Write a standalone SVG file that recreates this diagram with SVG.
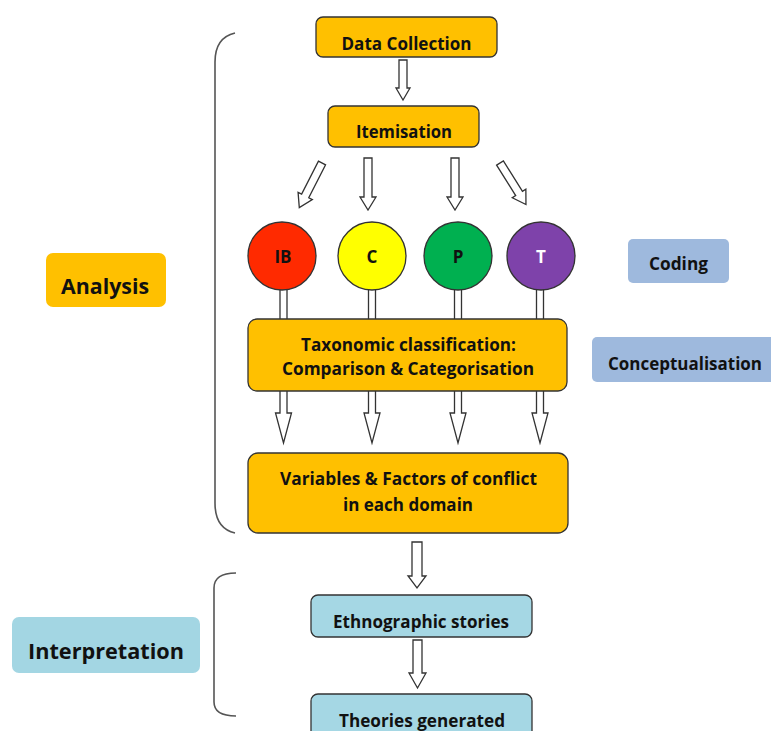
<svg xmlns="http://www.w3.org/2000/svg" width="771" height="731" viewBox="0 0 771 731">
  <style>
    text { font-family: "Open Sans", "Liberation Sans", sans-serif; font-weight: bold; fill: #111; text-anchor: middle; }
    .t17 { font-size: 17px; }
    .t22 { font-size: 22px; }
    .gold { fill: #FFC000; stroke: #333; stroke-width: 1.3; }
    .goldLabel { fill: #FFC000; }
    .teal { fill: #A5D7E4; stroke: #333; stroke-width: 1.3; }
    .tealLabel { fill: #A3D6E3; }
    .blueLabel { fill: #9EB9DD; }
    .circle { stroke: #333; stroke-width: 1.3; }
    .arrow { fill: #fff; stroke: #333; stroke-width: 1.3; stroke-linejoin: miter; }
    .brace { fill: none; stroke: #555; stroke-width: 1.6; }
  </style>

  <!-- side brackets -->
  <g id="brackets">
    <path class="brace" d="M235,33 C222,36 215,45 215,62 V503 C215,520 222,530 235,533"/>
    <path class="brace" d="M236,573 C222,573 214,577 214,588 V702 C214,712 222,716 236,716"/>
  </g>

  <!-- hollow block arrows -->
  <g id="connectors">
    <path class="arrow" d="M399,60 H407 V88 H410 L403,100 L396,88 H399 Z"/>
    <path class="arrow" transform="translate(322,163) rotate(27)" d="M-4,0 H4 V37 H8 L0,50 L-8,37 H-4 Z"/>
    <path class="arrow" d="M364,158 H372 V197 H376 L368,210 L360,197 H364 Z"/>
    <path class="arrow" d="M451,158 H459 V197 H463 L455,210 L447,197 H451 Z"/>
    <path class="arrow" transform="translate(500,163) rotate(-32)" d="M-4,0 H4 V36 H8 L0,49 L-8,36 H-4 Z"/>
    <path class="arrow" d="M280,288 H287 V413 H291.5 L283.5,443 L275.5,413 H280 Z"/>
    <path class="arrow" d="M368.5,288 H375.5 V413 H380 L372,443 L364,413 H368.5 Z"/>
    <path class="arrow" d="M454.5,288 H461.5 V413 H466 L458,443 L450,413 H454.5 Z"/>
    <path class="arrow" d="M536.5,288 H543.5 V413 H548 L540,443 L532,413 H536.5 Z"/>
    <path class="arrow" d="M412,542 H422 V576 H426 L417,588 L408,576 H412 Z"/>
    <path class="arrow" d="M413,640 H422 V673 H426 L417.5,688 L409,673 H413 Z"/>
  </g>

  <g id="data-collection">
    <rect class="gold" x="316" y="17" width="181" height="40" rx="7"/>
    <text class="t17" x="406.5" y="50" textLength="130" lengthAdjust="spacingAndGlyphs">Data Collection</text>
  </g>

  <g id="itemisation">
    <rect class="gold" x="328" y="106" width="151" height="41" rx="7"/>
    <text class="t17" x="404" y="138" textLength="96" lengthAdjust="spacingAndGlyphs">Itemisation</text>
  </g>

  <g id="node-ib">
    <circle class="circle" cx="282" cy="256" r="34" fill="#FF2A00"/>
    <text class="t17" x="283" y="263">IB</text>
  </g>
  <g id="node-c">
    <circle class="circle" cx="372" cy="256" r="34" fill="#FFFF00"/>
    <text class="t17" x="372" y="263">C</text>
  </g>
  <g id="node-p">
    <circle class="circle" cx="458" cy="256" r="34" fill="#00B050"/>
    <text class="t17" x="458" y="263">P</text>
  </g>
  <g id="node-t">
    <circle class="circle" cx="541" cy="256" r="34" fill="#7E42AA"/>
    <text class="t17" x="541" y="263" style="fill:#fff">T</text>
  </g>

  <g id="taxonomic">
    <rect class="gold" x="248" y="319" width="319" height="72" rx="9"/>
    <text class="t17" x="408.5" y="351" textLength="215" lengthAdjust="spacingAndGlyphs">Taxonomic classification:</text>
    <text class="t17" x="408" y="375" textLength="252" lengthAdjust="spacingAndGlyphs">Comparison &amp; Categorisation</text>
  </g>

  <g id="variables">
    <rect class="gold" x="248" y="453" width="320" height="80" rx="10"/>
    <text class="t17" x="408.5" y="485" textLength="257" lengthAdjust="spacingAndGlyphs">Variables &amp; Factors of conflict</text>
    <text class="t17" x="408" y="511" textLength="130" lengthAdjust="spacingAndGlyphs">in each domain</text>
  </g>

  <g id="ethnographic">
    <rect class="teal" x="311" y="595" width="221" height="42" rx="7"/>
    <text class="t17" x="421" y="628" textLength="176" lengthAdjust="spacingAndGlyphs">Ethnographic stories</text>
  </g>

  <g id="theories">
    <rect class="teal" x="311" y="694" width="221" height="50" rx="7"/>
    <text class="t17" x="422" y="727" textLength="166" lengthAdjust="spacingAndGlyphs">Theories generated</text>
  </g>

  <g id="analysis">
    <rect class="goldLabel" x="46" y="253" width="120" height="54" rx="7"/>
    <text class="t22" x="105" y="294" textLength="88" lengthAdjust="spacingAndGlyphs">Analysis</text>
  </g>

  <g id="interpretation">
    <rect class="tealLabel" x="12" y="617" width="188" height="56" rx="7"/>
    <text class="t22" x="106" y="659" textLength="156" lengthAdjust="spacingAndGlyphs">Interpretation</text>
  </g>

  <g id="coding">
    <rect class="blueLabel" x="628" y="239" width="101" height="44" rx="5"/>
    <text class="t17" x="678.5" y="270" textLength="59" lengthAdjust="spacingAndGlyphs">Coding</text>
  </g>

  <g id="conceptualisation">
    <rect class="blueLabel" x="592" y="337" width="186" height="45" rx="5"/>
    <text class="t17" x="685" y="370" textLength="154" lengthAdjust="spacingAndGlyphs">Conceptualisation</text>
  </g>
</svg>
